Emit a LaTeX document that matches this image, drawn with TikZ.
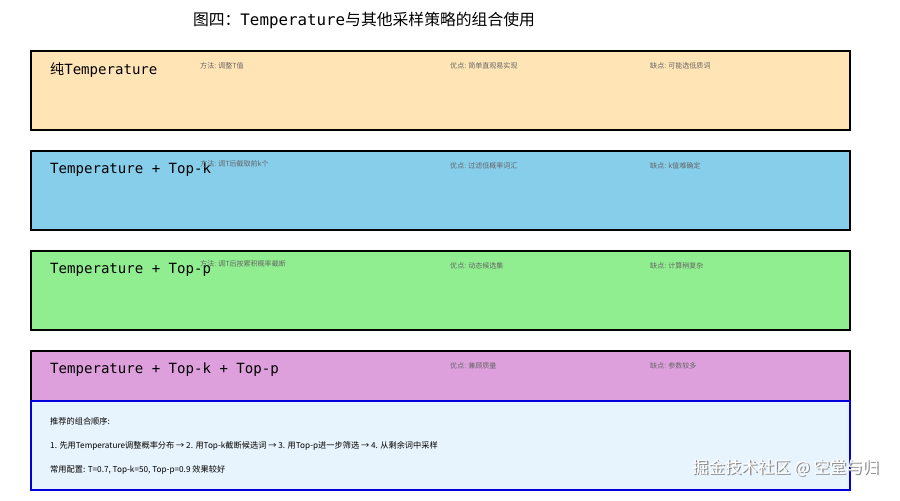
\documentclass[tikz,border=0pt]{standalone}
\usepackage{fontspec}
\setmainfont{Noto Sans CJK SC}
\setmonofont{DejaVu Sans Mono}
\newfontfamily\cjk{Noto Sans CJK SC}
\usetikzlibrary{positioning}

\begin{document}
\begin{tikzpicture}[x=0.03cm, y=-0.03cm,
        row_style/.style={draw=black, line width=1pt},
        title_style/.style={anchor=west, font=\ttfamily\fontsize{12}{14}\selectfont, inner sep=0pt},
        note_style/.style={anchor=west, text=black!60, font=\fontsize{6}{7}\selectfont, inner sep=0pt},
        tip_style/.style={anchor=west, font=\fontsize{7}{8}\selectfont, inner sep=0pt}]

        \useasboundingbox (0,0) rectangle (900,500);

        \node [font=\ttfamily\fontsize{13.5}{15}\selectfont] (title) at (364,20) {{\cjk 图四：}Temperature{\cjk 与其他采样策略的组合使用}};

        % rows
        \draw [row_style, fill={rgb,255:red,255;green,228;blue,181}] (31,51) rectangle (850,130);
        \draw [row_style, fill={rgb,255:red,135;green,206;blue,235}] (31,151) rectangle (850,230);
        \draw [row_style, fill={rgb,255:red,144;green,238;blue,144}] (31,251) rectangle (850,330);
        \draw [row_style, fill={rgb,255:red,221;green,160;blue,221}] (31,351) rectangle (850,490);
        \draw [draw={rgb,255:red,0;green,0;blue,220}, line width=1pt, fill={rgb,255:red,232;green,244;blue,253}] (31,401) rectangle (850,490);

        \node [title_style] (r1) at (50,70) {{\cjk 纯}Temperature};
        \node [title_style] (r2) at (50,170) {Temperature + Top-k};
        \node [title_style] (r3) at (50,270) {Temperature + Top-p};
        \node [title_style] (r4) at (50,370) {Temperature + Top-k + Top-p};

        \node [note_style] (m1) at (200,66) {方法: 调整T值};
        \node [note_style] (p1) at (450,66) {优点: 简单直观易实现};
        \node [note_style] (c1) at (650,66) {缺点: 可能选低质词};
        \node [note_style] (m2) at (200,164) {方法: 调T后截取前k个};
        \node [note_style] (p2) at (450,166) {优点: 过滤低概率词汇};
        \node [note_style] (c2) at (650,166) {缺点: k值难确定};
        \node [note_style] (m3) at (200,264) {方法: 调T后按累积概率截断};
        \node [note_style] (p3) at (450,266) {优点: 动态候选集};
        \node [note_style] (c3) at (650,266) {缺点: 计算稍复杂};
        \node [note_style] (p4) at (450,366) {优点: 兼顾质量};
        \node [note_style] (c4) at (650,366) {缺点: 参数较多};

        \node [tip_style] (t1) at (50,421) {推荐的组合顺序:};
        \node [tip_style] (t2) at (50,446) {1. 先用Temperature调整概率分布 → 2. 用Top-k截断候选词 → 3. 用Top-p进一步筛选 → 4. 从剩余词中采样};
        \node [tip_style] (t3) at (50,470) {常用配置: T=0.7, Top-k=50, Top-p=0.9 效果较好};

        \node [anchor=east, text=black!45, font=\fontsize{14}{16}\selectfont] (shadow) at (884.5,469) {掘金技术社区 @ 空堂与归};
        \node [anchor=east, text=white, font=\fontsize{14}{16}\selectfont] (mark) at (883,468) {掘金技术社区 @ 空堂与归};
        \end{tikzpicture}
\end{document}
